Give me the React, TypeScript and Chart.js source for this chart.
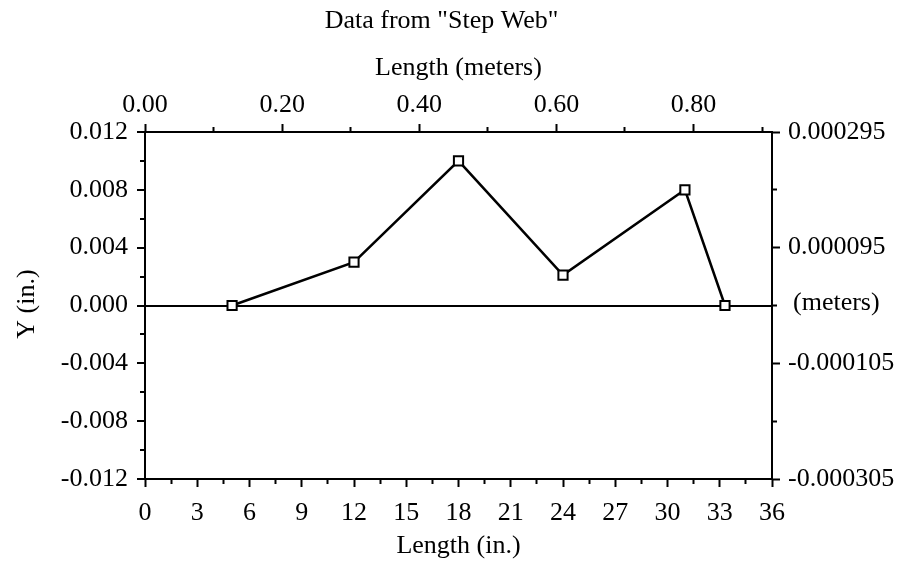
import React, { useEffect, useRef } from "react";
import { Chart, registerables } from "chart.js";

Chart.register(...registerables);

// Data (inches)
const lengthIn = [5, 12, 18, 24, 31, 33.3];
const yIn = [0, 0.003, 0.01, 0.0021, 0.008, 0];

// Tick values and labels
const bottomMajor = [0, 3, 6, 9, 12, 15, 18, 21, 24, 27, 30, 33, 36];
const bottomMinor = [1.5, 4.5, 7.5, 10.5, 13.5, 16.5, 19.5, 22.5, 25.5, 28.5, 31.5, 34.5];
const topMajor = [0, 0.2, 0.4, 0.6, 0.8];
const topMinor = [0.1, 0.3, 0.5, 0.7, 0.9];
const leftMajor = [-0.012, -0.008, -0.004, 0, 0.004, 0.008, 0.012];
const leftMinor = [-0.01, -0.006, -0.002, 0.002, 0.006, 0.01];
const rightMajor = [-0.000305, -0.000105, 0.000095, 0.000295];
const rightMinor = [-0.000205, -0.000005, 0.000195];

const titleText = 'Data from "Step Web"';
const topAxisTitle = "Length (meters)";
const bottomAxisTitle = "Length (in.)";
const leftAxisTitle = "Y (in.)";
const rightAxisTitle = "(meters)";

const FONT_FAMILY = '"Liberation Serif", "Times New Roman", serif';
const FONT_SIZE = 26;

const isIn = (arr: number[], v: number) => arr.some((m) => Math.abs(m - v) < 1e-10);

function makeAxis(
  position: "top" | "bottom" | "left" | "right",
  major: number[],
  minor: number[],
  digits: number,
  min: number,
  max: number,
  size: number,
  padding: number
): any {
  const all = [...major, ...minor].sort((a, b) => a - b);
  const innerStart = position === "top" || position === "left";
  const horizontal = position === "top" || position === "bottom";
  return {
    type: "linear",
    position,
    min,
    max,
    afterBuildTicks: (s: any) => {
      s.ticks = all.map((v) => ({ value: v }));
    },
    afterFit: (s: any) => {
      if (horizontal) s.height = size;
      else s.width = size;
    },
    ticks: {
      autoSkip: false,
      maxRotation: 0,
      minRotation: 0,
      padding,
      color: "#000",
      font: { family: FONT_FAMILY, size: FONT_SIZE },
      callback: (v: any) => (isIn(major, Number(v)) ? Number(v).toFixed(digits) : ""),
    },
    grid: {
      drawOnChartArea: false,
      tickLength: 8,
      tickColor: "#000",
      tickWidth: 2,
      tickBorderDash: (ctx: any) =>
        ctx.tick && isIn(major, ctx.tick.value) ? [] : innerStart ? [0, 3, 4, 100] : [4, 100],
    },
    border: { display: true, color: "#000", width: 2 },
    title: { display: false },
  };
}

const textPlugin = {
  id: "customTexts",
  afterDraw(chart: any) {
    const { ctx, chartArea: a } = chart;
    const cx = (a.left + a.right) / 2;
    ctx.save();
    ctx.fillStyle = "#000";
    ctx.font = `${FONT_SIZE}px ${FONT_FAMILY}`;
    ctx.textBaseline = "alphabetic";
    ctx.textAlign = "center";
    ctx.fillText(titleText, cx - 17, 20);
    ctx.fillText(topAxisTitle, cx, 67);
    ctx.fillText(bottomAxisTitle, cx, 545);
    ctx.textAlign = "left";
    ctx.fillText(rightAxisTitle, a.right + 21, 302);
    ctx.translate(19, 296);
    ctx.rotate(-Math.PI / 2);
    ctx.textAlign = "center";
    ctx.textBaseline = "middle";
    ctx.fillText(leftAxisTitle, 0, 0);
    ctx.restore();
  },
};

export default function App() {
  const ref = useRef<HTMLCanvasElement | null>(null);
  useEffect(() => {
    if (!ref.current) return;
    const leftAxis = makeAxis("left", leftMajor, leftMinor, 3, -0.012, 0.012, 137, 9);
    leftAxis.grid.drawOnChartArea = true;
    leftAxis.grid.color = (ctx: any) =>
      ctx.tick && Math.abs(ctx.tick.value) < 1e-12 ? "#000" : "rgba(0,0,0,0)";
    leftAxis.grid.lineWidth = 2;
    const chart = new Chart(ref.current, {
      type: "line",
      data: {
        datasets: [
          {
            data: lengthIn.map((x, i) => ({ x, y: yIn[i] })),
            borderColor: "#000",
            borderWidth: 2.5,
            tension: 0,
            pointStyle: "rect",
            pointRadius: 6.5,
            pointBackgroundColor: "#fff",
            pointBorderColor: "#000",
            pointBorderWidth: 2,
            xAxisID: "x",
            yAxisID: "y",
          },
        ],
      },
      options: {
        animation: false,
        responsive: true,
        maintainAspectRatio: false,
        layout: { padding: 0 },
        plugins: {
          legend: { display: false },
          title: { display: false },
          tooltip: { enabled: false },
        },
        scales: {
          x: makeAxis("bottom", bottomMajor, bottomMinor, 0, 0, 36, 82, 11),
          x2: makeAxis("top", topMajor, topMinor, 2, 0, 36 * 0.0254, 124, 3),
          y: leftAxis,
          y2: makeAxis("right", rightMajor, rightMinor, 6, -0.000305, 0.000295, 127, 8),
        },
      } as any,
      plugins: [textPlugin],
    });
    return () => chart.destroy();
  }, []);
  return (
    <div style={{ position: "relative", width: 891, height: 553 }}>
      <canvas ref={ref} />
    </div>
  );
}
